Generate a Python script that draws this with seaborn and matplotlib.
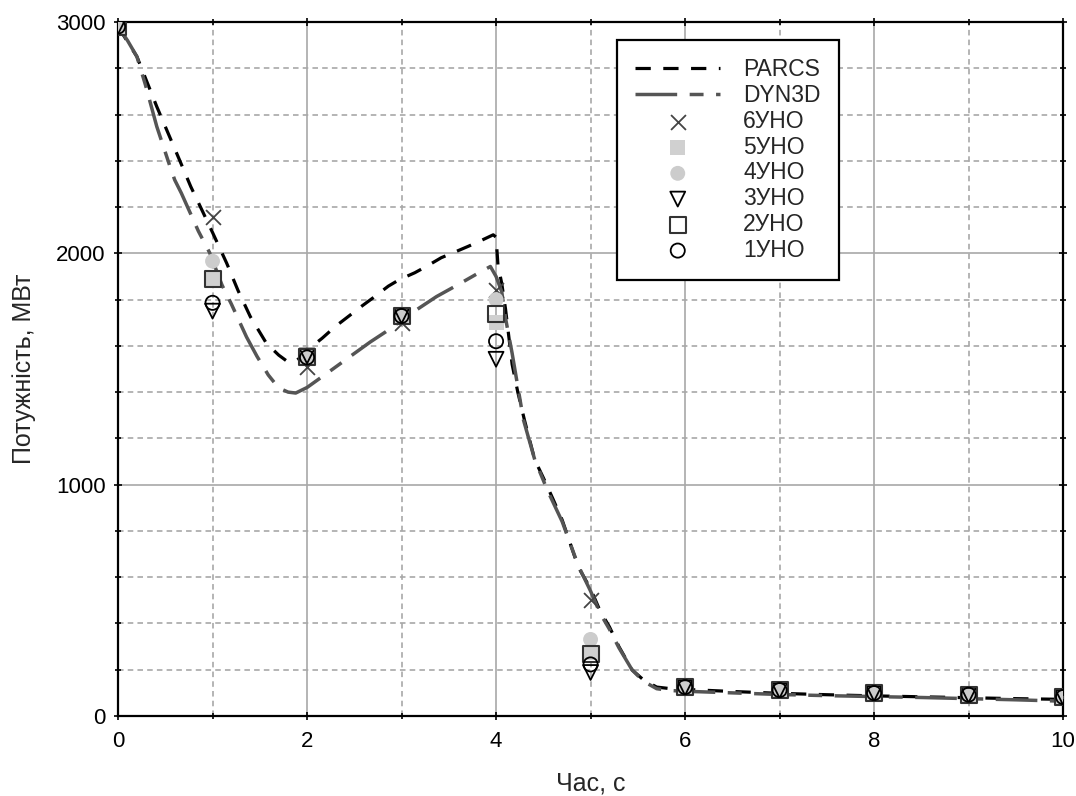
import matplotlib
matplotlib.use("Agg")
import matplotlib.pyplot as plt
import seaborn as sns
import numpy as np
import pandas as pd
from matplotlib.ticker import MultipleLocator

# ---- data ----
parcs_t = [0, 0.2, 0.41, 0.53, 0.65, 0.77, 0.89, 1.0, 1.15, 1.27, 1.4, 1.57, 1.7, 1.8, 1.87, 1.95,
           2.05, 2.16, 2.3, 2.44, 2.58, 2.7, 2.86, 2.98, 3.14, 3.27, 3.42, 3.55, 3.71, 3.83, 3.97,
           4.0, 4.02, 4.06, 4.1, 4.17, 4.23, 4.3, 4.41, 4.5, 4.6, 4.7, 4.87, 5.0, 5.1, 5.2, 5.3,
           5.44, 5.56, 5.7, 5.85, 6.0, 6.5, 7.0, 7.5, 8.0, 8.5, 9.0, 9.5, 10.0]
parcs_p = [2980, 2850, 2634, 2519, 2404, 2288, 2185, 2090, 1957, 1839, 1726, 1611, 1560, 1530, 1532, 1555,
           1597, 1633, 1684, 1728, 1772, 1808, 1858, 1887, 1916, 1945, 1981, 2003, 2031, 2053, 2080,
           2070, 1950, 1870, 1760, 1520, 1400, 1280, 1107, 1030, 940, 847, 644, 550, 455, 385, 300,
           199, 156, 125, 118, 115, 106, 98, 92, 87, 83, 79, 75, 72]

dyn_t = [0, 0.1, 0.2, 0.29, 0.41, 0.55, 0.6, 0.67, 0.85, 0.97, 1.1, 1.2, 1.36, 1.47, 1.59, 1.7, 1.8,
         1.88, 2.0, 2.26, 2.5, 2.67, 2.83, 2.93, 3.1, 3.37, 3.6, 3.78, 3.94, 4.0, 4.06, 4.1, 4.17,
         4.29, 4.41, 4.55, 4.7, 4.87, 5.0, 5.1, 5.2, 5.3, 5.44, 5.56, 5.7, 5.85, 6.0, 6.5, 7.0, 7.5,
         8.0, 8.5, 9.0, 9.5, 10.0]
dyn_p = [2980, 2920, 2850, 2728, 2548, 2375, 2317, 2260, 2096, 2002, 1863, 1780, 1638, 1555, 1474, 1418, 1400,
         1396, 1420, 1496, 1567, 1617, 1660, 1690, 1740, 1813, 1865, 1907, 1943, 1900, 1834, 1720, 1568,
         1280, 1107, 970, 840, 650, 540, 445, 375, 295, 199, 150, 118, 110, 107, 100, 93, 88,
         84, 80, 75, 70, 64]

t_pts = [0, 1, 2, 3, 4, 5, 6, 7, 8, 9, 10]
uno6 = [2980, 2155, 1510, 1697, 1843, 501, 125, 112, 99, 92, 82]
uno5 = [2980, 1889, 1552, 1729, 1700, 275, 128, 115, 100, 93, 83]
uno4 = [2980, 1966, 1560, 1735, 1800, 331, 130, 118, 102, 95, 85]
uno3 = [2980, 1750, 1556, 1729, 1542, 188, 122, 110, 97, 90, 80]
uno2 = [2980, 1889, 1552, 1729, 1736, 266, 125, 112, 99, 92, 82]
uno1 = [2980, 1786, 1550, 1729, 1620, 223, 125, 112, 99, 92, 82]

x_ticks = [0, 2, 4, 6, 8, 10]
y_ticks = [0, 1000, 2000, 3000]

# ---- style ----
sns.set_style("white")
plt.rcParams['font.family'] = ['Liberation Sans', 'DejaVu Sans']
plt.rcParams['lines.scale_dashes'] = False

fig = plt.figure(figsize=(10.76, 7.96), dpi=100)
ax = fig.add_axes([0.1097, 0.1005, 0.8783, 0.8719])

df_parcs = pd.DataFrame({"t": parcs_t, "p": parcs_p})
df_dyn = pd.DataFrame({"t": dyn_t, "p": dyn_p})

sns.lineplot(data=df_parcs, x="t", y="p", ax=ax, color="black", lw=2.3, sort=False,
             estimator=None, label="PARCS")
sns.lineplot(data=df_dyn, x="t", y="p", ax=ax, color="#555555", lw=2.5, sort=False,
             estimator=None, label="DYN3D")
ax.lines[0].set_dashes([11, 9])
ax.lines[1].set_dashes([30, 9, 10, 9])

ms = 115
sns.scatterplot(x=t_pts, y=uno6, ax=ax, marker="x", s=ms, color="#444444", linewidth=1.3,
                label="6УНО", zorder=5)
sns.scatterplot(x=t_pts, y=uno5, ax=ax, marker="s", s=ms, facecolor="#d0d0d0", edgecolor="none",
                label="5УНО", zorder=5)
sns.scatterplot(x=t_pts, y=uno4, ax=ax, marker="o", s=ms, facecolor="#cccccc", edgecolor="none",
                label="4УНО", zorder=5)
sns.scatterplot(x=t_pts, y=uno3, ax=ax, marker="v", s=ms, facecolor="none", edgecolor="black",
                linewidth=1.3, label="3УНО", zorder=6)
sns.scatterplot(x=t_pts, y=uno2, ax=ax, marker="s", s=ms * 1.15, facecolor="none", edgecolor="#333333",
                linewidth=1.5, label="2УНО", zorder=6)
sns.scatterplot(x=t_pts, y=uno1, ax=ax, marker="o", s=ms * 0.9, facecolor="none", edgecolor="black",
                linewidth=1.3, label="1УНО", zorder=6)

ax.set_xlim(0, 10)
ax.set_ylim(0, 3000)
ax.set_xticks(x_ticks)
ax.set_yticks(y_ticks)
ax.xaxis.set_minor_locator(MultipleLocator(1))
ax.yaxis.set_minor_locator(MultipleLocator(200))

ax.grid(True, which="major", color="#a8a8a8", lw=1.2, ls="-")
ax.grid(True, which="minor", color="#a8a8a8", lw=1.2, ls=(0, (4, 3)))
ax.set_axisbelow(True)

for sp in ax.spines.values():
    sp.set_visible(True)
    sp.set_color("black")
    sp.set_linewidth(1.6)

ax.tick_params(which="both", direction="inout", top=True, right=True, bottom=True, left=True,
               colors="black", width=1.2)
ax.tick_params(which="major", length=6, labelsize=16, pad=6)
ax.tick_params(which="minor", length=4)
ax.tick_params(axis="x", which="major", pad=8)

ax.set_xlabel("Час, с", fontsize=18, labelpad=14)
ax.set_ylabel("Потужність, МВт", fontsize=18, labelpad=14)

leg = ax.legend(loc="upper left", bbox_to_anchor=(0.528, 0.974), borderaxespad=0,
                fontsize=16.5, frameon=True, fancybox=False, edgecolor="black",
                handlelength=3.7, handletextpad=1.0, labelspacing=0.12, borderpad=0.8)
leg.get_frame().set_linewidth(1.6)
leg.get_frame().set_alpha(1)

fig.savefig("out.png", dpi=100)
